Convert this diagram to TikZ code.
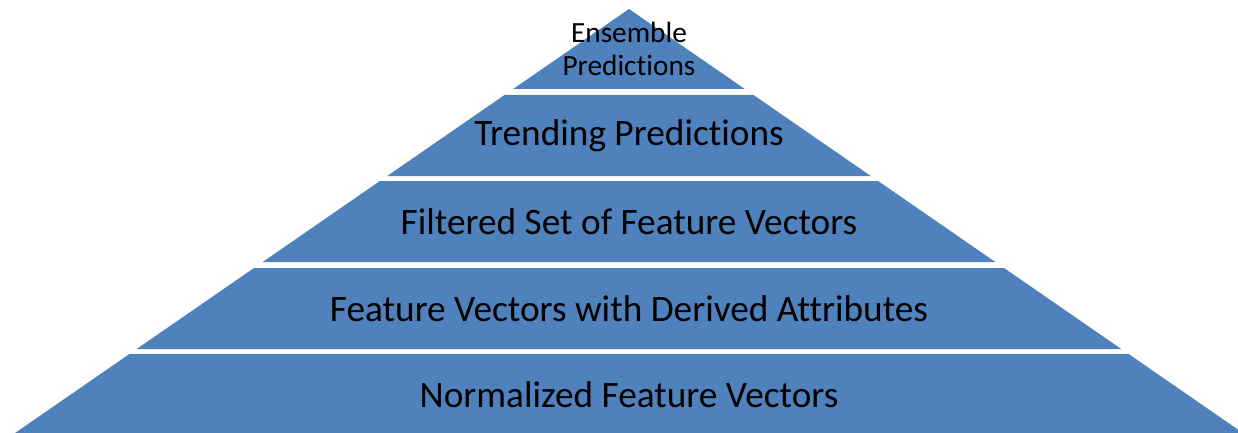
\documentclass[tikz,border=0pt]{standalone}
\usepackage{fontspec}
\setmainfont{Carlito}[Ligatures={NoCommon}]
\definecolor{tierblue}{HTML}{4F81BD}
\tikzset{
  tier/.style={fill=tierblue},
  tiertext/.style={font=\fontsize{37.3}{44}\selectfont, text=black},
  toptext/.style={font=\fontsize{29.3}{33}\selectfont, text=black, align=center}
}
\begin{document}
\begin{tikzpicture}[x=1pt,y=-1pt]
        \useasboundingbox (0,0) rectangle (1238,433);
        \clip (0,0) rectangle (1238,433);
        \def\c{629}
        % tiers, top to bottom
        \fill[tier] (\c,9) -- (\c+115.8,89) -- (\c-115.8,89) -- cycle;
        \fill[tier] (\c-124.5,95) -- (\c+124.5,95) -- (\c+241.8,176) -- (\c-241.8,176) -- cycle;
        \fill[tier] (\c-249.1,181) -- (\c+249.1,181) -- (\c+366.3,262) -- (\c-366.3,262) -- cycle;
        \fill[tier] (\c-375.0,268) -- (\c+375.0,268) -- (\c+492.3,349) -- (\c-492.3,349) -- cycle;
        \fill[tier] (\c-499.6,354) -- (\c+499.6,354) -- (\c+616.8,435) -- (\c-616.8,435) -- cycle;
        % labels
        \node[toptext] (T1) at (\c,49) {Ensemble\\Predictions};
        \node[tiertext] (T2) at (\c,135.5) {Trending Predictions};
        \node[tiertext] (T3) at (\c,221.5) {Filtered Set of Feature Vectors};
        \node[tiertext] (T4) at (\c,308.5) {Feature Vectors with Derived Attributes};
        \node[tiertext] (T5) at (\c,394.5) {Normalized Feature Vectors};
      \end{tikzpicture}
\end{document}
